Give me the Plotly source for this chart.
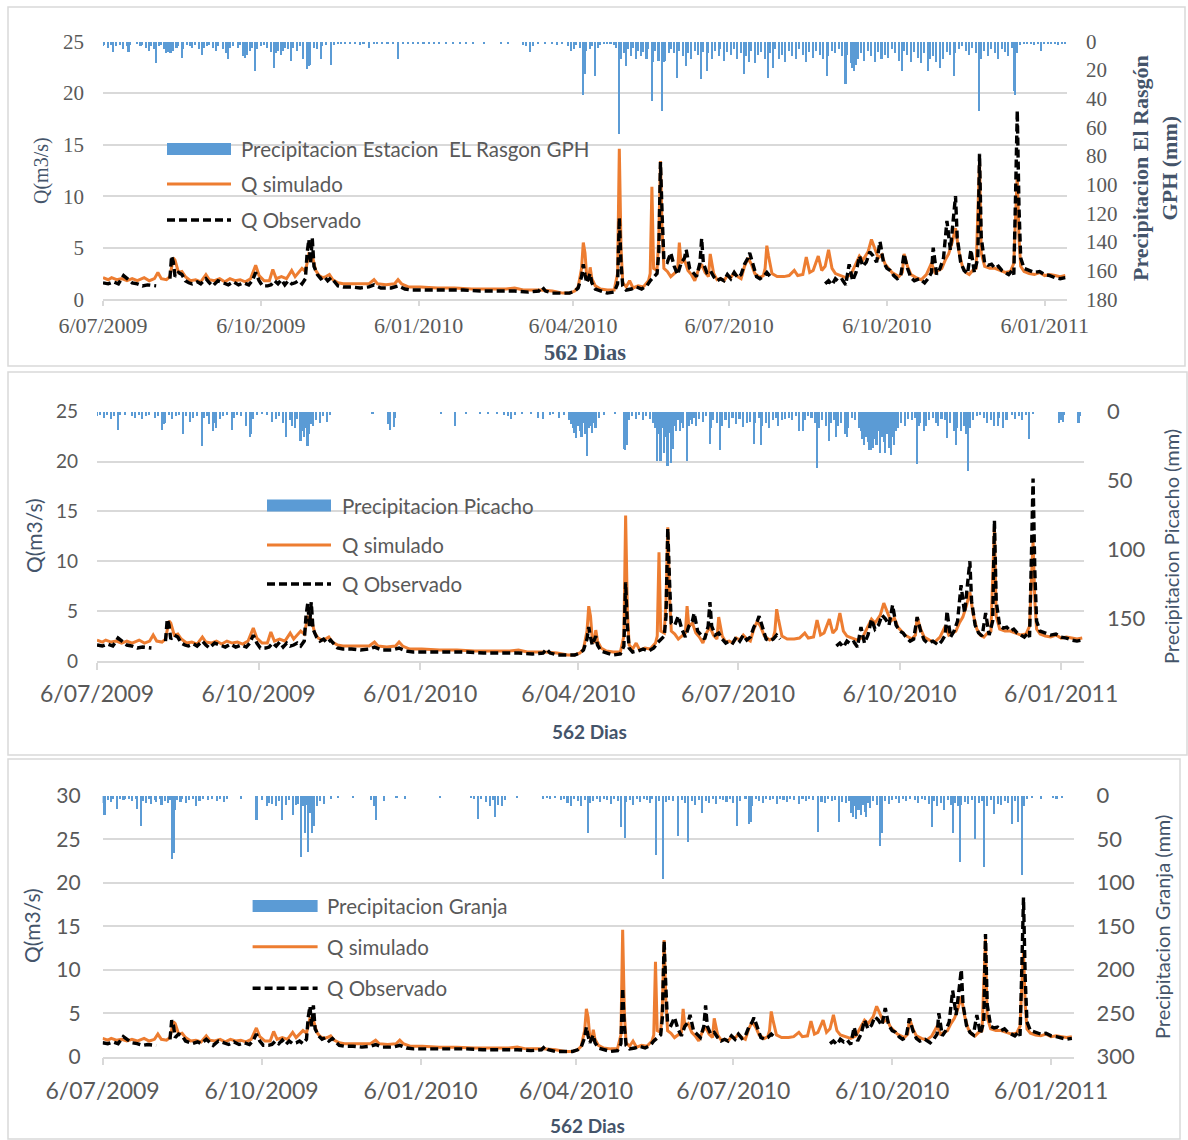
import pandas as pd
import plotly.graph_objects as go

W, H = 1188, 1140
START = pd.Timestamp("2009-07-06")
END = START + pd.Timedelta(days=562)

tick_dates = ["2009-07-06", "2009-10-06", "2010-01-06", "2010-04-06",
              "2010-07-06", "2010-10-06", "2011-01-06"]
tick_text = ["6/07/2009", "6/10/2009", "6/01/2010", "6/04/2010",
             "6/07/2010", "6/10/2010", "6/01/2011"]

# caudal simulado [dia, m3/s]
q_sim = [
    [0, 2.1], [3, 1.9], [5, 2.1], [8, 1.9], [11, 2.0], [14, 1.8], [17, 2.0], [20, 1.8],
    [24, 2.1], [27, 1.8], [30, 2.0], [32, 2.6], [34, 2.0], [37, 1.9], [39, 2.2], [41, 4.0],
    [42, 3.8], [44, 2.6], [46, 2.7], [48, 2.2], [51, 1.8], [54, 1.9], [57, 1.7], [60, 2.4],
    [62, 1.9], [65, 1.8], [68, 2.0], [71, 1.7], [74, 2.0], [77, 1.8], [80, 1.9], [83, 1.7],
    [86, 2.0], [89, 3.3], [91, 2.3], [94, 1.8], [97, 1.8], [99, 2.9], [101, 2.0], [104, 2.2],
    [107, 2.0], [110, 2.8], [112, 2.2], [114, 2.6], [116, 3.0], [118, 2.7], [120, 4.4],
    [122, 4.2], [124, 2.8], [126, 2.3], [128, 2.1], [130, 2.2], [132, 2.4], [134, 1.9],
    [137, 1.6], [140, 1.5], [145, 1.5], [150, 1.5], [155, 1.5], [158, 1.9], [160, 1.5],
    [165, 1.4], [170, 1.5], [172, 1.9], [174, 1.5], [178, 1.2], [185, 1.2], [195, 1.1],
    [205, 1.1], [215, 1.0], [225, 1.0], [235, 1.0], [240, 1.1], [245, 0.9], [255, 0.9],
    [262, 0.8], [268, 0.6], [272, 0.6], [275, 0.8], [277, 1.2], [279, 3.0], [280, 5.5],
    [281, 4.5], [282, 2.2], [283, 1.8], [284, 3.1], [285, 2.0], [287, 1.3], [290, 1.0],
    [294, 0.9], [298, 0.9], [300, 2.5], [301, 14.6], [302, 5.0], [303, 1.6], [305, 1.2],
    [307, 1.8], [309, 1.1], [312, 1.3], [315, 1.2], [318, 1.8], [319, 2.5], [320, 10.9],
    [321, 3.0], [323, 2.8], [324, 6.0], [325, 13.4], [326, 6.5], [327, 3.0], [329, 2.7],
    [331, 2.2], [333, 2.5], [335, 2.8], [336, 5.5], [337, 3.5], [339, 3.8], [341, 2.8],
    [343, 2.4], [345, 1.8], [347, 2.8], [349, 3.4], [351, 2.6], [353, 2.2], [354, 4.4],
    [356, 2.5], [358, 1.9], [360, 2.0], [362, 1.8], [364, 2.3], [366, 2.1], [368, 2.6],
    [370, 2.2], [372, 2.0], [374, 3.2], [376, 4.0], [378, 3.4], [380, 2.5], [383, 2.1],
    [385, 2.3], [386, 3.0], [387, 5.2], [388, 4.2], [390, 2.5], [393, 2.2], [397, 2.2],
    [400, 2.3], [403, 2.8], [405, 2.3], [408, 2.4], [410, 4.1], [412, 2.6], [414, 2.8],
    [417, 4.2], [419, 2.8], [421, 3.2], [423, 4.8], [425, 3.0], [427, 2.5], [430, 2.3],
    [433, 2.1], [436, 2.4], [439, 3.4], [441, 4.2], [443, 3.8], [446, 4.6], [448, 5.8],
    [450, 4.8], [452, 4.0], [454, 4.3], [456, 3.4], [458, 3.0], [460, 2.6], [462, 2.4],
    [464, 2.2], [466, 2.6], [467, 4.4], [469, 3.2], [471, 2.4], [474, 2.1], [477, 1.9],
    [480, 2.4], [483, 3.5], [485, 2.6], [487, 2.8], [489, 3.0], [491, 3.8], [493, 4.4],
    [495, 5.5], [497, 6.9], [499, 4.6], [501, 3.2], [503, 2.6], [505, 2.4], [507, 2.8],
    [509, 3.0], [511, 13.5], [512, 4.5], [514, 3.2], [517, 3.0], [520, 3.0], [523, 2.8],
    [526, 2.6], [529, 2.7], [531, 3.5], [532, 8.0], [533, 12.0], [534, 6.0], [535, 3.2],
    [537, 2.7], [540, 2.5], [543, 2.4], [546, 2.6], [549, 2.3], [552, 2.4], [555, 2.3],
    [558, 2.2], [561, 2.3],
]

# caudal observado [dia, m3/s], None = sin dato
q_obs = [
    [0, 1.6], [3, 1.5], [6, 1.7], [9, 1.5], [12, 2.3], [14, 2.0], [17, 1.6], [20, 1.5],
    [23, 1.3], [26, 1.4], [29, 1.3], [31, 1.3], [34, None], [39, 2.0], [40, 4.2], [41, 3.6],
    [42, 2.2], [44, 2.6], [46, 2.4], [48, 1.8], [50, 1.6], [52, 1.5], [55, 1.7], [57, 1.5],
    [60, 2.0], [62, 1.6], [64, 1.3], [67, 1.8], [70, 1.6], [73, 1.4], [76, 1.7], [79, 1.4],
    [82, 1.6], [85, 1.4], [87, 1.8], [89, 2.6], [91, 1.8], [93, 1.3], [96, 1.3], [98, 1.4],
    [100, 1.8], [102, 1.5], [104, 1.9], [106, 1.4], [108, 1.8], [110, 1.5], [112, 1.6],
    [114, 1.8], [116, 1.5], [118, 2.0], [119, 4.5], [120, 5.8], [121, 3.5], [122, 5.9],
    [123, 3.2], [125, 2.4], [127, 2.0], [129, 2.2], [131, 1.8], [133, 2.1], [135, 1.7],
    [137, 1.3], [140, 1.2], [145, 1.2], [150, 1.1], [155, 1.2], [158, 1.4], [162, 1.1],
    [168, 1.1], [172, 1.3], [176, 1.0], [180, 0.9], [190, 0.9], [200, 0.9], [210, 0.9],
    [220, 0.8], [230, 0.8], [240, 0.8], [248, 0.7], [254, 0.8], [256, 1.2], [258, 0.8],
    [262, 0.6], [268, 0.6], [272, 0.6], [275, 0.8], [277, 1.1], [279, 2.2], [280, 3.4],
    [281, 2.4], [282, 1.6], [284, 2.5], [285, 1.6], [287, 1.0], [290, 0.8], [294, 0.6],
    [298, 0.7], [300, 1.5], [301, 7.9], [302, 3.5], [303, 1.3], [305, 0.9], [308, 1.0],
    [311, 1.2], [314, 1.0], [317, 1.3], [319, 1.8], [321, 2.2], [323, 2.5], [324, 4.5],
    [325, 13.3], [326, 8.0], [327, 3.8], [329, 3.6], [331, 4.5], [333, 3.2], [335, 2.4],
    [337, 3.5], [339, 4.0], [340, 4.8], [342, 3.0], [344, 2.6], [346, 2.2], [348, 3.5],
    [349, 5.9], [350, 3.5], [352, 2.6], [354, 2.8], [356, 2.2], [358, 1.8], [360, 2.0],
    [362, 1.8], [364, 2.4], [366, 2.0], [368, 2.6], [370, 2.1], [372, 2.4], [374, 3.4],
    [376, 4.0], [377, 4.5], [379, 3.2], [381, 2.2], [383, 2.0], [385, 2.2], [387, 2.6],
    [389, 2.2], [400, None], [421, 1.5], [423, 1.8], [425, 1.4], [427, 2.0], [429, 1.7],
    [431, 1.9], [433, 1.4], [435, 3.4], [437, 1.8], [439, 2.6], [441, 4.2], [443, 3.2],
    [445, 3.6], [447, 4.6], [449, 4.2], [451, 3.6], [453, 5.6], [455, 3.6], [457, 3.0],
    [459, 2.8], [461, 2.3], [463, 2.0], [465, 2.2], [467, 4.4], [469, 3.0], [471, 2.1],
    [473, 1.8], [476, 2.0], [479, 1.6], [481, 2.0], [483, 2.6], [484, 5.0], [486, 2.4],
    [488, 3.0], [490, 4.0], [492, 7.6], [494, 4.8], [496, 8.5], [497, 10.0], [498, 6.0],
    [500, 3.6], [502, 2.8], [504, 2.5], [506, 4.8], [508, 2.6], [510, 4.0], [511, 14.1],
    [512, 6.0], [514, 3.5], [516, 3.3], [518, 3.4], [520, 3.0], [522, 3.2], [524, 2.8],
    [526, 2.6], [528, 2.4], [530, 2.8], [531, 2.4], [532, 10.0], [533, 18.3], [534, 9.0],
    [535, 4.0], [537, 3.0], [540, 2.8], [543, 2.6], [546, 2.7], [549, 2.4], [552, 2.3],
    [555, 2.1], [558, 2.0], [561, 2.1],
]

# precipitacion diaria [dia, mm]
p_rasgon = [
    [0, 3], [1, 2], [3, 4], [5, 2], [6, 7], [8, 3], [10, 2], [12, 5], [14, 3], [15, 7], [16, 2],
    [20, 1], [22, 3], [23, 2], [25, 4], [27, 6], [28, 3], [30, 5], [31, 15], [33, 3], [34, 2],
    [36, 5], [37, 8], [38, 7], [39, 8], [40, 8], [41, 6], [43, 4], [44, 3], [46, 11], [47, 5],
    [49, 2], [51, 3], [52, 4], [54, 2], [56, 5], [58, 9], [59, 4], [61, 3], [62, 2], [64, 4],
    [66, 6], [67, 3], [70, 5], [72, 8], [73, 12], [74, 4], [76, 3], [79, 4], [80, 2], [82, 10],
    [83, 11], [84, 9], [86, 6], [87, 4], [89, 20], [90, 5], [92, 3], [94, 2], [96, 4], [98, 7],
    [100, 18], [101, 8], [102, 6], [104, 9], [105, 6], [106, 4], [108, 5], [110, 13], [111, 4],
    [113, 6], [115, 3], [117, 12], [119, 19], [120, 17], [121, 16], [123, 4], [125, 5],
    [127, 12], [128, 3], [130, 2], [133, 16], [135, 2], [137, 1], [139, 1], [141, 1], [144, 1],
    [147, 1], [150, 2], [152, 1], [155, 4], [158, 1], [160, 1], [163, 1], [166, 1], [169, 1],
    [172, 12], [175, 1], [178, 1], [181, 1], [184, 1], [187, 1], [190, 1], [193, 1], [196, 1],
    [200, 1], [204, 1], [208, 1], [212, 1], [216, 1], [222, 1], [232, 1], [236, 1], [245, 2],
    [247, 3], [249, 7], [251, 3], [254, 1], [258, 1], [262, 1], [265, 2], [268, 1], [271, 3],
    [273, 6], [275, 5], [276, 2], [278, 4], [280, 37], [281, 22], [282, 6], [284, 5], [285, 3],
    [287, 24], [289, 4], [290, 2], [292, 1], [294, 1], [296, 1], [298, 2], [299, 4], [301, 64],
    [302, 12], [304, 8], [305, 17], [306, 5], [308, 10], [309, 4], [311, 12], [312, 6],
    [314, 10], [315, 7], [317, 12], [318, 5], [320, 41], [321, 14], [322, 6], [324, 13],
    [326, 48], [327, 14], [328, 13], [330, 8], [331, 5], [333, 8], [335, 25], [336, 6],
    [338, 10], [340, 17], [341, 8], [343, 12], [345, 6], [347, 9], [349, 26], [350, 7],
    [352, 20], [353, 8], [355, 12], [357, 6], [359, 10], [360, 5], [362, 13], [364, 7],
    [366, 9], [368, 5], [370, 12], [372, 8], [374, 22], [375, 10], [377, 14], [378, 6],
    [380, 15], [382, 9], [384, 7], [386, 12], [388, 25], [389, 8], [391, 18], [392, 5],
    [394, 12], [396, 9], [398, 14], [400, 6], [402, 10], [404, 12], [406, 5], [408, 9],
    [410, 14], [412, 7], [414, 11], [416, 6], [418, 9], [420, 12], [422, 24], [423, 10],
    [425, 6], [427, 8], [429, 5], [431, 10], [433, 29], [434, 9], [436, 15], [437, 18],
    [438, 20], [439, 16], [440, 12], [442, 8], [444, 13], [446, 6], [448, 10], [450, 14],
    [452, 7], [454, 12], [456, 9], [458, 11], [460, 5], [462, 8], [464, 13], [466, 20],
    [467, 6], [469, 9], [471, 14], [473, 7], [475, 11], [477, 15], [479, 8], [481, 20],
    [482, 12], [484, 10], [486, 14], [488, 18], [490, 12], [492, 7], [494, 9], [496, 24],
    [497, 8], [499, 5], [501, 3], [503, 6], [505, 9], [507, 4], [509, 8], [511, 48], [512, 12],
    [514, 6], [516, 10], [518, 5], [520, 8], [522, 12], [524, 5], [526, 7], [528, 10], [530, 4],
    [531, 34], [532, 37], [533, 8], [535, 2], [537, 1], [539, 1], [541, 1], [543, 2], [545, 1],
    [547, 6], [549, 1], [551, 1], [553, 1], [555, 1], [557, 2], [559, 1], [561, 1],
]

p_picacho = [
    [0, 3], [2, 2], [4, 4], [6, 2], [8, 5], [10, 3], [12, 13], [13, 2], [16, 2], [20, 3], [22, 4],
    [24, 2], [26, 5], [28, 3], [30, 2], [33, 4], [35, 3], [37, 13], [38, 9], [39, 8], [41, 2],
    [43, 5], [45, 3], [47, 2], [49, 16], [51, 3], [53, 7], [55, 4], [57, 3], [60, 25], [61, 4],
    [63, 3], [64, 9], [66, 14], [67, 8], [68, 12], [70, 5], [72, 3], [74, 2], [77, 13], [78, 4],
    [80, 2], [82, 3], [85, 10], [87, 18], [88, 16], [89, 5], [91, 2], [94, 1], [97, 2], [100, 7],
    [102, 5], [104, 3], [106, 8], [108, 18], [110, 6], [111, 10], [113, 12], [114, 5],
    [116, 21], [117, 14], [118, 18], [119, 12], [120, 25], [121, 16], [122, 9], [123, 10],
    [125, 6], [127, 8], [129, 3], [131, 7], [133, 2], [157, 1], [166, 9], [167, 13], [169, 11],
    [170, 4], [196, 1], [204, 10], [210, 1], [218, 1], [223, 1], [228, 1], [232, 2], [234, 3],
    [236, 5], [238, 2], [242, 1], [247, 1], [251, 4], [254, 5], [258, 2], [260, 1], [263, 4],
    [266, 2], [269, 6], [270, 9], [271, 12], [272, 15], [273, 19], [274, 10], [275, 14],
    [276, 18], [277, 8], [278, 16], [279, 32], [280, 12], [281, 10], [282, 15], [283, 8],
    [284, 12], [286, 4], [289, 2], [295, 1], [300, 27], [301, 28], [302, 24], [303, 6],
    [305, 3], [307, 5], [309, 2], [311, 6], [313, 3], [315, 5], [317, 8], [318, 12], [319, 36],
    [320, 16], [321, 36], [322, 12], [323, 30], [324, 18], [325, 39], [326, 15], [327, 37],
    [328, 27], [329, 10], [330, 14], [331, 6], [332, 14], [333, 8], [334, 12], [336, 36],
    [337, 10], [338, 6], [339, 9], [340, 4], [341, 10], [343, 5], [345, 7], [347, 3], [349, 23],
    [350, 12], [351, 6], [353, 8], [355, 28], [356, 10], [358, 6], [360, 12], [362, 4],
    [364, 9], [366, 5], [368, 11], [370, 8], [372, 7], [374, 23], [375, 8], [377, 4], [378, 24],
    [379, 10], [381, 8], [383, 12], [385, 6], [387, 4], [388, 10], [390, 6], [392, 5], [394, 4],
    [396, 6], [398, 3], [400, 14], [402, 14], [403, 6], [405, 3], [407, 4], [409, 8], [410, 41],
    [411, 12], [413, 6], [415, 10], [417, 21], [418, 8], [420, 6], [421, 18], [422, 10],
    [424, 8], [426, 16], [427, 18], [428, 12], [430, 4], [432, 6], [434, 12], [435, 14],
    [436, 20], [437, 24], [438, 18], [439, 22], [440, 28], [441, 28], [442, 26], [443, 20],
    [444, 24], [445, 14], [446, 30], [447, 18], [448, 22], [449, 30], [450, 16], [451, 26],
    [452, 31], [453, 18], [454, 24], [455, 14], [456, 12], [458, 8], [460, 10], [462, 5],
    [464, 6], [466, 4], [467, 38], [468, 10], [469, 8], [471, 14], [472, 10], [474, 6],
    [476, 4], [478, 8], [479, 10], [481, 5], [483, 6], [484, 19], [486, 8], [488, 14],
    [489, 24], [490, 12], [492, 14], [494, 10], [495, 16], [496, 43], [497, 12], [499, 6],
    [501, 3], [503, 2], [505, 4], [507, 8], [509, 6], [511, 10], [513, 10], [514, 4], [516, 12],
    [518, 6], [521, 2], [523, 5], [525, 3], [527, 6], [529, 2], [531, 20], [533, 1], [548, 8],
    [549, 6], [550, 7], [551, 2], [559, 8], [560, 3],
]

p_granja = [
    [0, 8], [1, 22], [3, 5], [5, 7], [6, 3], [8, 15], [10, 4], [12, 5], [13, 3], [15, 4], [17, 6],
    [19, 3], [20, 15], [22, 35], [23, 6], [25, 8], [27, 4], [28, 9], [30, 5], [31, 7], [33, 4],
    [34, 10], [36, 6], [38, 8], [39, 5], [40, 72], [41, 66], [42, 16], [43, 5], [45, 7], [46, 4],
    [48, 8], [50, 5], [52, 4], [54, 11], [56, 6], [58, 3], [61, 5], [63, 4], [66, 6], [68, 3],
    [70, 7], [72, 4], [80, 3], [89, 28], [92, 5], [95, 11], [96, 8], [98, 9], [100, 11],
    [102, 6], [104, 28], [106, 10], [108, 5], [110, 22], [112, 10], [113, 9], [115, 70],
    [116, 12], [117, 42], [118, 10], [119, 64], [120, 20], [121, 42], [122, 34], [124, 12],
    [126, 6], [128, 9], [132, 3], [136, 2], [145, 2], [155, 5], [157, 11], [158, 28], [163, 6],
    [170, 2], [175, 3], [195, 2], [213, 2], [215, 3], [217, 26], [219, 4], [222, 7], [224, 12],
    [226, 5], [227, 24], [229, 10], [231, 12], [233, 5], [240, 2], [255, 3], [257, 2], [259, 4],
    [262, 2], [265, 5], [267, 3], [269, 8], [271, 12], [273, 4], [275, 6], [277, 11], [279, 5],
    [281, 42], [282, 8], [284, 6], [286, 4], [288, 7], [290, 3], [292, 5], [294, 9], [296, 3],
    [298, 6], [300, 36], [302, 48], [303, 7], [305, 5], [307, 10], [309, 4], [311, 7], [313, 3],
    [315, 5], [317, 8], [318, 4], [320, 68], [322, 6], [324, 95], [326, 7], [328, 5], [330, 6],
    [333, 46], [335, 5], [337, 8], [339, 53], [341, 6], [343, 10], [345, 5], [347, 20],
    [349, 6], [351, 8], [353, 4], [355, 9], [357, 3], [359, 5], [361, 7], [363, 4], [365, 8],
    [367, 35], [369, 6], [372, 4], [374, 32], [375, 30], [376, 11], [378, 4], [380, 6],
    [382, 8], [384, 3], [386, 5], [388, 4], [390, 9], [392, 3], [394, 5], [396, 7], [398, 4],
    [400, 5], [403, 9], [405, 4], [407, 6], [409, 3], [411, 5], [414, 41], [416, 7], [418, 8],
    [420, 4], [422, 6], [424, 5], [426, 30], [428, 7], [430, 8], [432, 6], [433, 19], [434, 24],
    [435, 12], [436, 26], [437, 16], [438, 16], [439, 22], [440, 10], [441, 18], [442, 24],
    [443, 8], [444, 14], [446, 6], [448, 10], [450, 58], [451, 42], [453, 6], [455, 9],
    [457, 5], [459, 4], [461, 8], [463, 3], [465, 6], [467, 4], [470, 5], [472, 8], [474, 3],
    [476, 5], [478, 9], [480, 36], [481, 6], [483, 12], [485, 8], [487, 16], [489, 5],
    [491, 10], [492, 43], [493, 8], [495, 12], [496, 76], [497, 10], [499, 7], [501, 9],
    [503, 5], [505, 49], [507, 8], [509, 6], [510, 82], [512, 12], [514, 5], [516, 21],
    [518, 9], [520, 10], [522, 6], [524, 8], [526, 32], [528, 6], [530, 30], [532, 91],
    [533, 12], [535, 4], [538, 2], [543, 3], [550, 2], [552, 3], [555, 2],
]


def dates(pairs):
    return [START + pd.Timedelta(days=d) for d, _ in pairs]


def vals(pairs):
    return [v for _, v in pairs]


def px(x):
    return x / W


def py(y):
    return 1 - y / H


BLUE = "#5B9BD5"
ORANGE = "#ED7D31"
GRID = "#D9D9D9"
TICK = "#595959"
TITLE = "#44546A"
SERIF = "Liberation Serif"
SANS = "Lato"

panels = [
    dict(precip=p_rasgon, name="Precipitacion Estacion  EL Rasgon GPH",
         x0=103, x1=1067, ytop=41.5, ybot=299.3, qmax=25, pmax=180, pdt=20,
         font=SERIF, xfs=22, lfs=21, rfs=21, xlen=5, xstand=1, lstand=18, rstand=18,
         ytitle=dict(text="Q(m3/s)", x=41, y=171, size=20),
         rtitle=dict(text="<b>Precipitacion El Rasgón<br>GPH (mm)</b>", x=1155, y=168, size=22),
         xtitle=dict(x=585, y=352, size=22.5),
         leg=dict(x0=167, x1=231, y=(149, 184, 220), tx=239, size=20.5),
         box=(8, 7, 1185, 366)),
    dict(precip=p_picacho, name="Precipitacion Picacho",
         x0=97, x1=1084, ytop=411.7, ybot=661, qmax=25, pmax=181.4, pdt=50,
         font=SANS, xfs=23, lfs=19, rfs=22, xlen=7, xstand=5, lstand=18, rstand=22,
         ytitle=dict(text="Q(m3/s)", x=33, y=536, size=21),
         rtitle=dict(text="Precipitacion Picacho (mm)", x=1171, y=547, size=20),
         xtitle=dict(x=589, y=731, size=19),
         leg=dict(x0=267, x1=331, y=(505.5, 545, 584), tx=340, size=20.5),
         box=(8, 372, 1187, 755)),
    dict(precip=p_granja, name="Precipitacion Granja",
         x0=102.6, x1=1073.6, ytop=795.7, ybot=1056.7, qmax=30, pmax=300, pdt=50,
         font=SANS, xfs=23, lfs=21, rfs=22, xlen=7, xstand=6, lstand=21, rstand=22,
         ytitle=dict(text="Q(m3/s)", x=31, y=926, size=21),
         rtitle=dict(text="Precipitacion Granja (mm)", x=1162, y=927, size=20),
         xtitle=dict(x=587, y=1125, size=19),
         leg=dict(x0=252.6, x1=317.6, y=(906, 946.7, 988.3), tx=324.5, size=20.5),
         box=(8, 759, 1180, 1139)),
]

fig = go.Figure()
layout = dict(width=W, height=H, margin=dict(l=0, r=0, t=0, b=0, autoexpand=False),
              paper_bgcolor="white", plot_bgcolor="rgba(0,0,0,0)",
              showlegend=False, bargap=0)
shapes, annots = [], []

for i, p in enumerate(panels):
    n = i + 1
    xname = "x" if n == 1 else f"x{n}"
    yp = f"y{2 * n - 1}" if n > 1 else "y"
    yq = f"y{2 * n}"
    xkey = "xaxis" if n == 1 else f"xaxis{n}"
    ypkey = "yaxis" if n == 1 else f"yaxis{2 * n - 1}"
    yqkey = f"yaxis{2 * n}"
    dom_x = [px(p["x0"]), px(p["x1"])]
    dom_y = [py(p["ybot"]), py(p["ytop"])]

    fig.add_trace(go.Bar(x=dates(p["precip"]), y=vals(p["precip"]), xaxis=xname, yaxis=yp,
                         marker=dict(color=BLUE, line=dict(width=0)),
                         width=0.9 * 86400000, name=p["name"]))
    fig.add_trace(go.Scatter(x=dates(q_sim), y=vals(q_sim), xaxis=xname, yaxis=yq,
                             mode="lines", line=dict(color=ORANGE, width=3),
                             name="Q simulado"))
    fig.add_trace(go.Scatter(x=dates(q_obs), y=vals(q_obs), xaxis=xname, yaxis=yq,
                             mode="lines", connectgaps=False,
                             line=dict(color="black", width=3.4, dash="8px,4px"),
                             name="Q Observado"))

    layout[xkey] = dict(domain=dom_x, anchor=yq, type="date", range=[START, END],
                        automargin=False,
                        tickvals=tick_dates, ticktext=tick_text, showgrid=False,
                        showline=True, linecolor=GRID, linewidth=1.5, ticks="outside",
                        ticklen=p["xlen"], tickcolor=GRID, tickwidth=1.5,
                        ticklabelstandoff=p["xstand"],
                        tickfont=dict(family=p["font"], size=p["xfs"], color=TICK))
    layout[ypkey] = dict(domain=dom_y, anchor=xname, side="right", automargin=False,
                         range=[p["pmax"], 0], dtick=p["pdt"], tick0=0,
                         showgrid=False, zeroline=False, ticks="",
                         ticklabelstandoff=p["rstand"],
                         tickfont=dict(family=p["font"], size=p["rfs"], color=TICK))
    layout[yqkey] = dict(domain=dom_y, anchor=xname, overlaying=yp, side="left",
                         automargin=False,
                         range=[0, p["qmax"]], dtick=5, showgrid=True, gridcolor=GRID,
                         gridwidth=1.5, zeroline=False, ticks="",
                         ticklabelstandoff=p["lstand"],
                         tickfont=dict(family=p["font"], size=p["lfs"], color=TICK))

    # marco del grafico
    bx0, by0, bx1, by1 = p["box"]
    shapes.append(dict(type="rect", xref="paper", yref="paper", x0=px(bx0), x1=px(bx1),
                       y0=py(by1), y1=py(by0), line=dict(color=GRID, width=1.5)))

    # leyenda
    lg = p["leg"]
    shapes.append(dict(type="rect", xref="paper", yref="paper", x0=px(lg["x0"]), x1=px(lg["x1"]),
                       y0=py(lg["y"][0] + 6), y1=py(lg["y"][0] - 6),
                       fillcolor=BLUE, line=dict(width=0)))
    shapes.append(dict(type="line", xref="paper", yref="paper", x0=px(lg["x0"]), x1=px(lg["x1"]),
                       y0=py(lg["y"][1]), y1=py(lg["y"][1]),
                       line=dict(color=ORANGE, width=3)))
    shapes.append(dict(type="line", xref="paper", yref="paper", x0=px(lg["x0"]), x1=px(lg["x1"]),
                       y0=py(lg["y"][2]), y1=py(lg["y"][2]),
                       line=dict(color="black", width=3.5, dash="8px,4px")))
    for txt, yy in zip([p["name"], "Q simulado", "Q Observado"], lg["y"]):
        annots.append(dict(text=txt, xref="paper", yref="paper", x=px(lg["tx"]), y=py(yy),
                           xanchor="left", yanchor="middle", showarrow=False,
                           font=dict(family=SANS, size=lg["size"], color=TICK)))

    # titulos de ejes
    yt = p["ytitle"]
    annots.append(dict(text=yt["text"], xref="paper", yref="paper", x=px(yt["x"]), y=py(yt["y"]),
                       xanchor="center", yanchor="middle", textangle=-90, showarrow=False,
                       font=dict(family=p["font"], size=yt["size"], color=TITLE)))
    rt = p["rtitle"]
    annots.append(dict(text=rt["text"], xref="paper", yref="paper", x=px(rt["x"]), y=py(rt["y"]),
                       xanchor="center", yanchor="middle", textangle=-90, showarrow=False,
                       font=dict(family=p["font"], size=rt["size"], color=TITLE)))
    xt = p["xtitle"]
    annots.append(dict(text="<b>562 Dias</b>", xref="paper", yref="paper", x=px(xt["x"]),
                       y=py(xt["y"]), xanchor="center", yanchor="middle", showarrow=False,
                       font=dict(family=p["font"], size=xt["size"], color=TITLE)))

layout["shapes"] = shapes
layout["annotations"] = annots
fig.update_layout(**layout)

# la pagina por defecto tiene 8px de margen en <body>
fig.write_html("out.html", config={"displayModeBar": False},
               post_script="document.body.style.margin='0';")
